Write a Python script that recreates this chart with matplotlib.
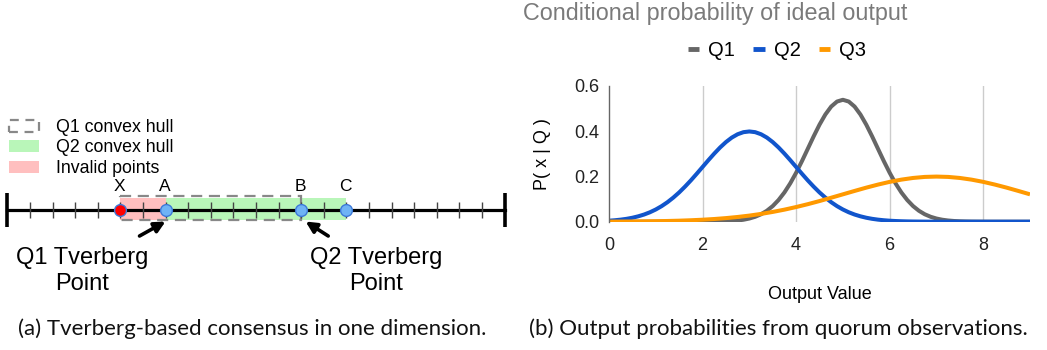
import matplotlib
matplotlib.use("Agg")
import matplotlib.pyplot as plt
from matplotlib.patches import Rectangle, Patch

plt.rcParams['font.family'] = ['Liberation Sans', 'DejaVu Sans']

# ===== data: left panel (positions on the number line) =====
line_ticks = list(range(0, 23))
line_ends = [0, 22]
point_names = ["X", "A", "B", "C"]
point_pos = [5, 7, 13, 15]
point_valid = [False, True, True, True]
q1_hull = (5, 13)
q2_hull = (7, 15)
invalid_span = (5, 7)
tverberg_q1 = 7
tverberg_q2 = 13

# ===== data: right panel (curves) =====
x_fine = [i * 0.125 for i in range(73)]
x_coarse = [i * 0.25 for i in range(37)]
q1_vals = [0, 0, 0, 0, 0, 0, 0, 0, 0, 0, 0, 0, 0, 0, 0, 0,
           0.0001, 0.0003, 0.0005, 0.001, 0.0018, 0.0031, 0.0053, 0.0087,
           0.014, 0.0218, 0.0329, 0.0484, 0.0691, 0.096, 0.1294, 0.1697,
           0.2163, 0.2679, 0.3225, 0.3773, 0.429, 0.474, 0.5091, 0.5313,
           0.539,
           0.5313, 0.5091, 0.474, 0.429, 0.3773, 0.3225, 0.2679, 0.2163,
           0.1697, 0.1294, 0.096, 0.0691, 0.0484, 0.0329, 0.0218, 0.014,
           0.0087, 0.0053, 0.0031, 0.0018, 0.001, 0.0005, 0.0003, 0.0001,
           0, 0, 0, 0, 0, 0, 0, 0]
q2_vals = [0.0044, 0.0064, 0.0091, 0.0127, 0.0175, 0.0238, 0.0317, 0.0417,
           0.054, 0.0688, 0.0863, 0.1066, 0.1295, 0.1551, 0.1826, 0.2119,
           0.242, 0.2721, 0.3011, 0.3282, 0.3521, 0.3719, 0.3867, 0.3959,
           0.399,
           0.3959, 0.3867, 0.3719, 0.3521, 0.3282, 0.3011, 0.2721, 0.242,
           0.2119, 0.1826, 0.1551, 0.1295, 0.1066, 0.0863, 0.0688, 0.054,
           0.0417, 0.0317, 0.0238, 0.0175, 0.0127, 0.0091, 0.0064, 0.0044,
           0.003, 0.002, 0.0013, 0.0009, 0.0006, 0.0004, 0.0002, 0.0001,
           0, 0, 0, 0, 0, 0, 0, 0, 0, 0, 0, 0, 0, 0, 0, 0]
q3_vals = [0.0004, 0.0007, 0.001, 0.0015, 0.0022, 0.0032, 0.0045, 0.0064,
           0.0088, 0.0119, 0.0159, 0.0209, 0.027, 0.0344, 0.0432, 0.0533,
           0.0648, 0.0775, 0.0913, 0.106, 0.121, 0.136, 0.1506, 0.1641,
           0.1761, 0.186, 0.1934, 0.198, 0.1995, 0.198, 0.1934, 0.186,
           0.1761, 0.1641, 0.1506, 0.136, 0.121]
series_names = ["Q1", "Q2", "Q3"]
series_colors = ["#666666", "#1155cc", "#ff9900"]
y_ticks = [0.0, 0.2, 0.4, 0.6]
x_ticks = [0, 2, 4, 6, 8]

W, H = 1047, 350
fig = plt.figure(figsize=(W / 100, H / 100), dpi=100)

# ===== left panel: x in number-line units, y in pixels (top-down) =====
axl = fig.add_axes([0, 0, 520 / W, 1])
unit = 22.6
x0 = 7.3
axl.set_xlim(-x0 / unit, (520 - x0) / unit)
axl.set_ylim(H, 0)
axl.axis("off")

yl = 209.5
# hull rectangles
axl.add_patch(Rectangle((invalid_span[0], 198), invalid_span[1] - invalid_span[0], 22,
                        facecolor="#ffbfbf", edgecolor="none", zorder=1))
axl.add_patch(Rectangle((q2_hull[0], 198), q2_hull[1] - q2_hull[0], 22,
                        facecolor="#b9f6b9", edgecolor="none", zorder=1))
axl.add_patch(Rectangle((q1_hull[0], 196), q1_hull[1] - q1_hull[0], 23.5,
                        facecolor="none", edgecolor="#888888", lw=1.6,
                        linestyle=(0, (5, 3)), zorder=2))

# number line and ticks
axl.plot([line_ends[0], line_ends[1]], [yl, yl], color="black", lw=2.3, zorder=3)
axl.vlines(line_ticks[1:-1], 201.5, 218, color="#444444", lw=1.0, zorder=3)
axl.vlines(line_ends, 193, 227, color="black", lw=2.6, zorder=3)

# points
for name, pos, ok in zip(point_names, point_pos, point_valid):
    axl.plot(pos, yl, "o", ms=8.5, mfc="#6fb3f5" if ok else "#ff0000",
             mec="#3c78d8", mew=1.0, zorder=5)
    axl.text(pos - 0.05, 194, name, ha="center", va="bottom", fontsize=12.5, zorder=6)

# arrows to Tverberg points
axl.annotate("", xy=(tverberg_q1, 221.5), xytext=(tverberg_q1 - 1.15, 236),
             arrowprops=dict(arrowstyle="-|>", color="black", lw=2.6, mutation_scale=16,
                             shrinkA=0, shrinkB=0), zorder=6)
axl.annotate("", xy=(tverberg_q2 + 0.2, 221.5), xytext=(tverberg_q2 + 1.2, 236),
             arrowprops=dict(arrowstyle="-|>", color="black", lw=2.6, mutation_scale=16,
                             shrinkA=0, shrinkB=0), zorder=6)
axl.text((82 - x0) / unit, 271, "Q1 Tverberg\nPoint", ha="center", va="center",
         fontsize=17, linespacing=1.27)
axl.text((376 - x0) / unit, 271, "Q2 Tverberg\nPoint", ha="center", va="center",
         fontsize=17, linespacing=1.27)

# legend
handles = [
    Patch(facecolor="none", edgecolor="#888888", lw=1.6, linestyle=(0, (4, 3))),
    Patch(facecolor="#b9f6b9", edgecolor="none"),
    Patch(facecolor="#ffbfbf", edgecolor="none"),
]
axl.legend(handles, ["Q1 convex hull", "Q2 convex hull", "Invalid points"],
           loc="upper left", bbox_to_anchor=(0.0, 1 - 110 / H), bbox_transform=fig.transFigure,
           frameon=False, fontsize=12.8, handlelength=1.7, handleheight=0.65,
           handletextpad=0.95, labelspacing=0.2, borderpad=0.2, borderaxespad=0.3)

# ===== right panel =====
axr = fig.add_axes([609 / W, 1 - 221.7 / H, 421 / W, (221.7 - 86) / H])
for name, xs, vals, col in zip(series_names, [x_fine, x_fine, x_coarse],
                               [q1_vals, q2_vals, q3_vals], series_colors):
    axr.plot(xs, vals, color=col, lw=2.9, label=name, solid_capstyle="butt",
             solid_joinstyle="round")
axr.set_xlim(0, 9)
axr.set_ylim(0, 0.6)
axr.set_xticks(x_ticks)
axr.set_yticks(y_ticks)
axr.set_yticklabels([f"{v:.1f}" for v in y_ticks])
axr.tick_params(length=0, labelsize=13, colors="#222222")
axr.tick_params(axis="y", pad=7)
axr.tick_params(axis="x", pad=11)
for s in ["top", "right", "bottom"]:
    axr.spines[s].set_visible(False)
axr.spines["left"].set_color("#666666")
axr.spines["left"].set_linewidth(1.0)
for gx in x_ticks[1:]:
    axr.axvline(gx, color="#cccccc", lw=1.0, zorder=0)
axr.set_ylabel("P( x | Q )", fontsize=13, labelpad=17)
axr.set_xlabel("Output Value", fontsize=13, labelpad=23)
axr.legend(loc="center", bbox_to_anchor=(777 / W, 1 - 51 / H), bbox_transform=fig.transFigure,
           ncol=3, frameon=False, fontsize=14.5, handlelength=0.55, handletextpad=0.45,
           columnspacing=0.9)
leg = axr.get_legend()
for ln in leg.get_lines():
    ln.set_linewidth(3.5)

fig.text(523 / W, 1 - 2 / H, "Conditional probability of ideal output", ha="left", va="top",
         fontsize=16.8, color="#7a7a7a")

# ===== captions =====
cap_font = ['Liberation Sans Narrow', 'Lato', 'DejaVu Sans']
fig.text(252 / W, 1 - 329 / H, "(a) Tverberg-based consensus in one dimension.",
         ha="center", va="center", fontsize=16, family=cap_font, color="#111111")
fig.text(778 / W, 1 - 329 / H, "(b) Output probabilities from quorum observations.",
         ha="center", va="center", fontsize=16, family=cap_font, color="#111111")

fig.savefig("out.png", dpi=100)
